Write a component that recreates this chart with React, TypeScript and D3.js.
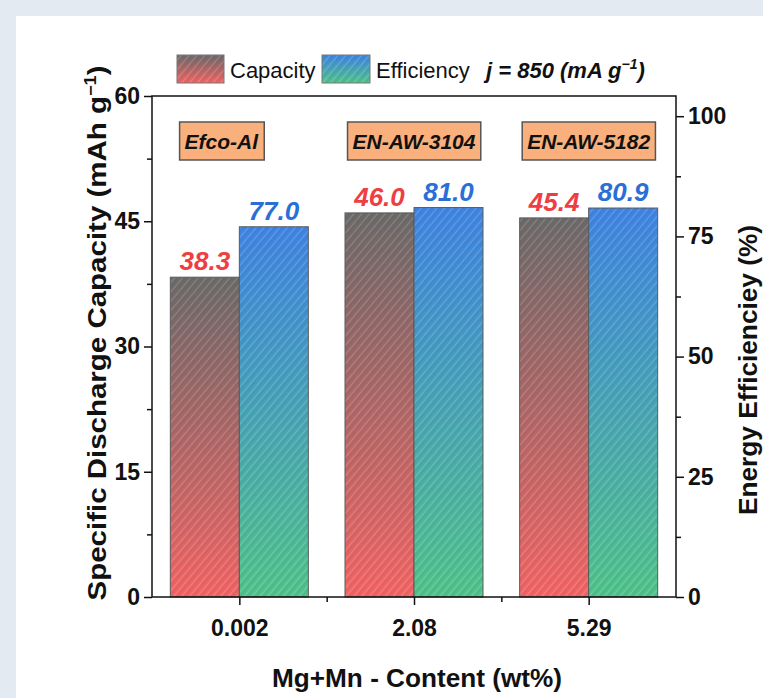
import React, { useRef, useEffect } from 'react';
import * as d3 from 'd3';

// values
const categories = ['0.002', '2.08', '5.29'];
const alloys = ['Efco-Al', 'EN-AW-3104', 'EN-AW-5182'];
const capacity = [38.3, 46.0, 45.4];
const efficiency = [77.0, 81.0, 80.9];
const leftTicks = [0, 15, 30, 45, 60];
const rightTicks = [0, 25, 50, 75, 100];

const W = 763;
const H = 698;
const FONT = '"Liberation Sans", Arial, sans-serif';

const App = () => {
  const svgRef = useRef<SVGSVGElement | null>(null);

  useEffect(() => {
    const svg = d3.select(svgRef.current);
    svg.selectAll('*').remove();

    const m = { left: 152, right: 676, top: 96, bottom: 597 };

    const x = d3.scaleLinear().domain([-0.5, 2.5]).range([m.left, m.right]);
    const yL = d3.scaleLinear().domain([0, 60]).range([m.bottom, m.top]);
    const yR = d3.scaleLinear().domain([0, 104.2]).range([m.bottom, m.top]);
    const barW = 69;

    // background + white panel
    svg.append('rect').attr('width', W).attr('height', H).attr('fill', '#e4eaf1');
    svg.append('rect').attr('x', 16).attr('y', 16).attr('width', W).attr('height', H).attr('fill', '#fff');

    const defs = svg.append('defs');
    const grad = (id: string, top: string, bot: string) => {
      const g = defs.append('linearGradient').attr('id', id)
        .attr('x1', 0).attr('y1', 0).attr('x2', 0).attr('y2', 1);
      g.append('stop').attr('offset', '0%').attr('stop-color', top);
      g.append('stop').attr('offset', '100%').attr('stop-color', bot);
    };
    grad('gCap', '#6c6a6a', '#f46464');
    grad('gEff', '#3f84e4', '#50c48a');

    const pat = defs.append('pattern').attr('id', 'hatch')
      .attr('width', 6).attr('height', 6)
      .attr('patternUnits', 'userSpaceOnUse')
      .attr('patternTransform', 'rotate(40)');
    pat.append('line').attr('x1', 0).attr('y1', 0).attr('x2', 0).attr('y2', 6)
      .attr('stroke', 'rgba(255,255,255,0.25)').attr('stroke-width', 1.4);
    pat.append('line').attr('x1', 3).attr('y1', 0).attr('x2', 3).attr('y2', 6)
      .attr('stroke', 'rgba(60,60,60,0.14)').attr('stroke-width', 1);

    // bars
    const drawBar = (x0: number, yTop: number, fill: string) => {
      const h = m.bottom - yTop;
      svg.append('rect').attr('x', x0).attr('y', yTop).attr('width', barW).attr('height', h)
        .attr('fill', fill);
      svg.append('rect').attr('x', x0).attr('y', yTop).attr('width', barW).attr('height', h)
        .attr('fill', 'url(#hatch)').attr('stroke', '#5a5a5a').attr('stroke-width', 1);
    };
    categories.forEach((_, i) => {
      drawBar(x(i) - barW, yL(capacity[i]), 'url(#gCap)');
      drawBar(x(i), yR(efficiency[i]), 'url(#gEff)');
    });

    // value labels
    categories.forEach((_, i) => {
      svg.append('text').attr('x', x(i) - barW / 2).attr('y', yL(capacity[i]) - 7)
        .attr('text-anchor', 'middle').attr('font-family', FONT).attr('font-size', 26)
        .attr('font-weight', 'bold').attr('font-style', 'italic').attr('fill', '#ef3e42')
        .text(capacity[i].toFixed(1));
      svg.append('text').attr('x', x(i) + barW / 2).attr('y', yR(efficiency[i]) - 7)
        .attr('text-anchor', 'middle').attr('font-family', FONT).attr('font-size', 26)
        .attr('font-weight', 'bold').attr('font-style', 'italic').attr('fill', '#2a6fd6')
        .text(efficiency[i].toFixed(1));
    });

    // alloy boxes
    alloys.forEach((a, i) => {
      const g = svg.append('g');
      const t = g.append('text').attr('x', x(i) - (i === 0 ? 18 : 0)).attr('y', 149)
        .attr('text-anchor', 'middle').attr('font-family', FONT).attr('font-size', 21)
        .attr('font-weight', 'bold').attr('font-style', 'italic').attr('fill', '#111')
        .text(a);
      const bb = (t.node() as SVGTextElement).getBBox();
      g.insert('rect', 'text').attr('x', bb.x - 5).attr('y', 122)
        .attr('width', bb.width + 10).attr('height', 38)
        .attr('fill', '#f9b07c').attr('stroke', '#555').attr('stroke-width', 1.5);
    });

    // frame
    svg.append('rect').attr('x', m.left).attr('y', m.top)
      .attr('width', m.right - m.left).attr('height', m.bottom - m.top)
      .attr('fill', 'none').attr('stroke', '#111').attr('stroke-width', 1.5);

    const txt = (sel: any) => sel.attr('font-family', FONT).attr('font-weight', 'bold').attr('fill', '#111');

    // left axis
    const gl = svg.append('g').attr('transform', `translate(${m.left},0)`)
      .call(d3.axisLeft(yL).tickValues(leftTicks).tickSize(8).tickPadding(4));
    gl.select('.domain').remove();
    gl.selectAll('line').attr('stroke', '#111').attr('stroke-width', 1.5);
    txt(gl.selectAll('text')).attr('font-size', 23);
    svg.append('g').attr('transform', `translate(${m.left},0)`)
      .call(d3.axisLeft(yL).tickValues([7.5, 22.5, 37.5, 52.5]).tickSize(5).tickFormat(() => ''))
      .call(g => g.select('.domain').remove())
      .selectAll('line').attr('stroke', '#111').attr('stroke-width', 1.5);

    // right axis
    const gr = svg.append('g').attr('transform', `translate(${m.right},0)`)
      .call(d3.axisRight(yR).tickValues(rightTicks).tickSize(8).tickPadding(4));
    gr.select('.domain').remove();
    gr.selectAll('line').attr('stroke', '#111').attr('stroke-width', 1.5);
    txt(gr.selectAll('text')).attr('font-size', 23);
    svg.append('g').attr('transform', `translate(${m.right},0)`)
      .call(d3.axisRight(yR).tickValues([12.5, 37.5, 62.5, 87.5]).tickSize(5).tickFormat(() => ''))
      .call(g => g.select('.domain').remove())
      .selectAll('line').attr('stroke', '#111').attr('stroke-width', 1.5);

    // bottom axis
    const gb = svg.append('g').attr('transform', `translate(0,${m.bottom})`)
      .call(d3.axisBottom(x).tickValues([0, 1, 2]).tickSize(8).tickPadding(15)
        .tickFormat((d: any) => categories[d]));
    gb.select('.domain').remove();
    gb.selectAll('line').attr('stroke', '#111').attr('stroke-width', 1.5);
    txt(gb.selectAll('text')).attr('font-size', 23);
    svg.append('g').attr('transform', `translate(0,${m.bottom})`)
      .call(d3.axisBottom(x).tickValues([0.5, 1.5]).tickSize(5).tickFormat(() => ''))
      .call(g => g.select('.domain').remove())
      .selectAll('line').attr('stroke', '#111').attr('stroke-width', 1.5);

    // axis titles
    txt(svg.append('text')).attr('x', 417).attr('y', 687)
      .attr('text-anchor', 'middle').attr('font-size', 26)
      .attr('textLength', 290).attr('lengthAdjust', 'spacingAndGlyphs')
      .text('Mg+Mn - Content (wt%)');

    const lt = txt(svg.append('text')).attr('transform', 'translate(106,333) rotate(-90)')
      .attr('text-anchor', 'middle').attr('font-size', 26)
      .attr('textLength', 535).attr('lengthAdjust', 'spacingAndGlyphs');
    lt.append('tspan').text('Specific Discharge Capacity (mAh g');
    lt.append('tspan').attr('dy', -10).attr('font-size', 16).text('\u22121');
    lt.append('tspan').attr('dy', 10).text(')');

    txt(svg.append('text')).attr('transform', 'translate(757,370) rotate(-90)')
      .attr('text-anchor', 'middle').attr('font-size', 25)
      .attr('textLength', 290).attr('lengthAdjust', 'spacingAndGlyphs')
      .text('Energy Efficienciey (%)');

    // legend
    const lg = svg.append('g');
    lg.append('rect').attr('x', 177).attr('y', 55).attr('width', 47).attr('height', 28).attr('fill', 'url(#gCap)');
    lg.append('rect').attr('x', 177).attr('y', 55).attr('width', 47).attr('height', 28)
      .attr('fill', 'url(#hatch)').attr('stroke', '#777').attr('stroke-width', 1);
    lg.append('text').attr('x', 230).attr('y', 78).attr('font-family', FONT).attr('font-size', 22)
      .attr('fill', '#111').text('Capacity');
    lg.append('rect').attr('x', 322).attr('y', 55).attr('width', 48).attr('height', 28).attr('fill', 'url(#gEff)');
    lg.append('rect').attr('x', 322).attr('y', 55).attr('width', 48).attr('height', 28)
      .attr('fill', 'url(#hatch)').attr('stroke', '#777').attr('stroke-width', 1);
    lg.append('text').attr('x', 376).attr('y', 78).attr('font-family', FONT).attr('font-size', 22)
      .attr('fill', '#111').text('Efficiency');
    const jt = lg.append('text').attr('x', 486).attr('y', 78).attr('font-family', FONT).attr('font-size', 22)
      .attr('font-weight', 'bold').attr('font-style', 'italic').attr('fill', '#111');
    jt.append('tspan').text('j = 850 (mA g');
    jt.append('tspan').attr('dy', -9).attr('font-size', 14).text('\u22121');
    jt.append('tspan').attr('dy', 9).text(')');
  }, []);

  return (
    <svg ref={svgRef} width={W} height={H}
      style={{ position: 'absolute', left: 0, top: 0, display: 'block' }} />
  );
};

export default App;
